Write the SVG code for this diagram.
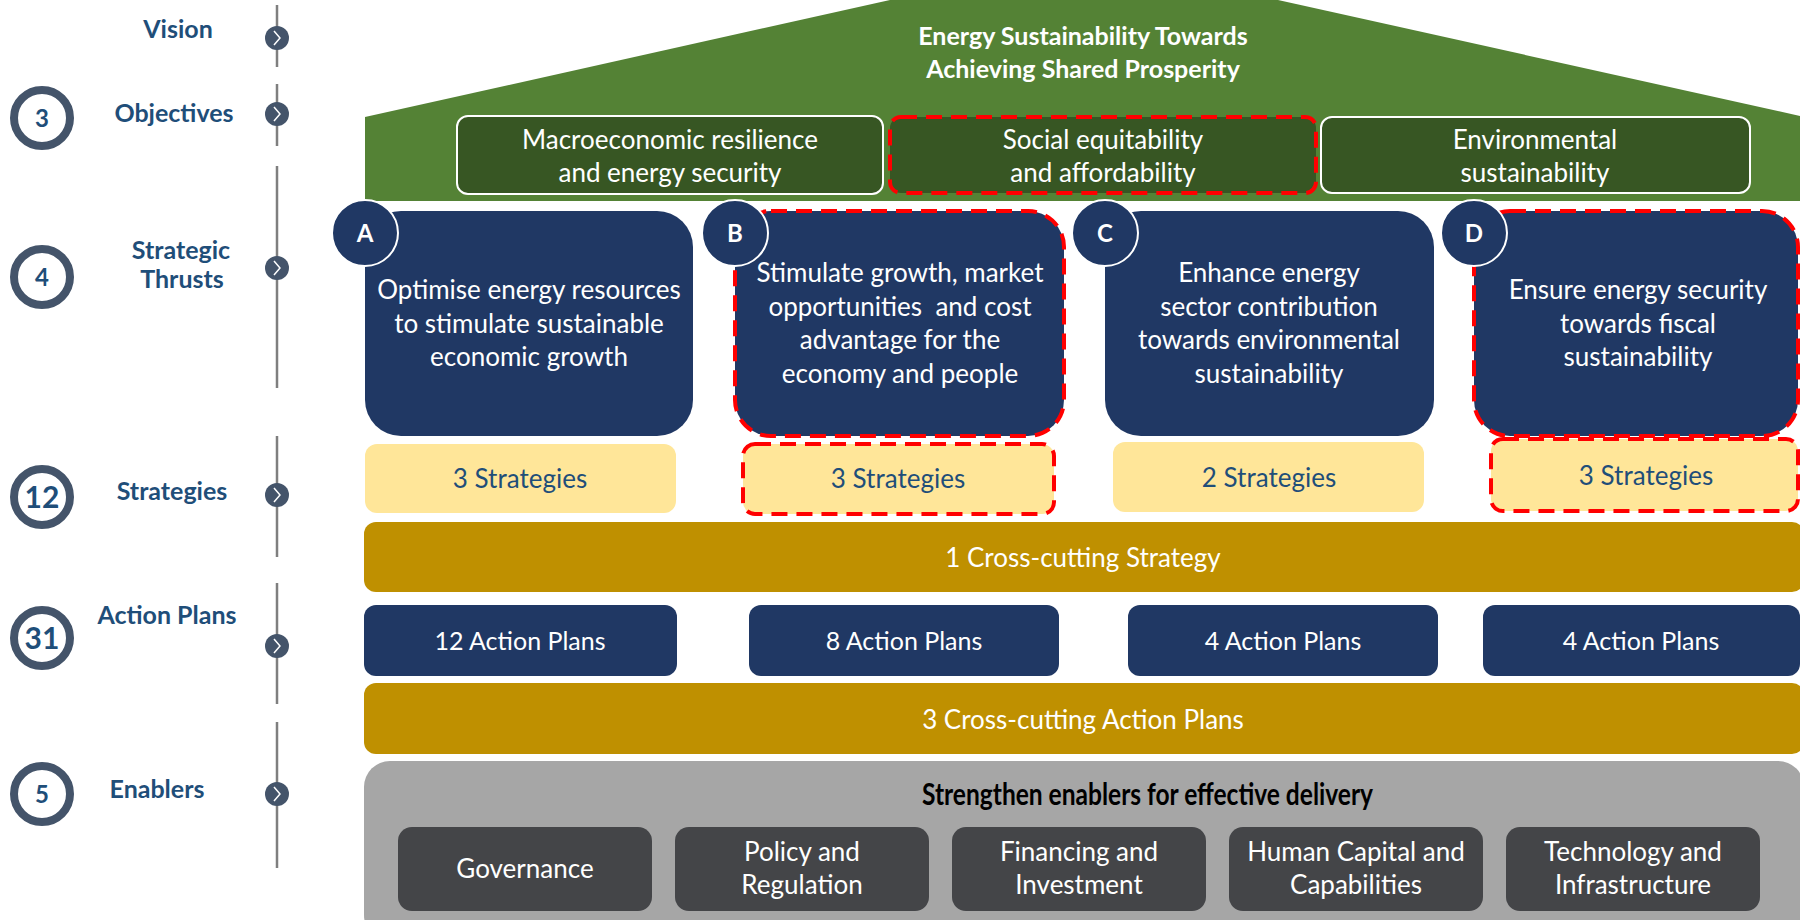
<svg xmlns="http://www.w3.org/2000/svg" width="1800" height="920" viewBox="0 0 1800 920">
<style>
.lbl{font-family:Lato,"Liberation Sans",sans-serif;font-weight:bold;fill:#1f4e79;font-size:25px;text-anchor:middle}
.num{font-family:Lato,"Liberation Sans",sans-serif;font-weight:bold;fill:#1f4e79;text-anchor:middle}
.ring{fill:#fff;stroke:#44546a;stroke-width:8}
.tl{stroke:#7f7f7f;stroke-width:2.5;fill:none}
.chev{fill:#44546a}
.chv{fill:none;stroke:#fff;stroke-width:1.5}
.w{font-family:Lato,"Liberation Sans",sans-serif;fill:#fff;text-anchor:middle;font-size:26px}
.w25{font-family:Lato,"Liberation Sans",sans-serif;fill:#fff;text-anchor:middle;font-size:25px}
.wb{font-family:Lato,"Liberation Sans",sans-serif;fill:#fff;text-anchor:middle;font-weight:bold}
.obj{fill:#375623;stroke:#fff;stroke-width:2}
.navy{fill:#203864}
.letter{fill:#203864;stroke:#fff;stroke-width:2}
.strat{fill:#ffe699}
.st{font-family:Lato,"Liberation Sans",sans-serif;fill:#1f4e79;text-anchor:middle;font-size:26px}
.gold{fill:#bf9000}
.en{fill:#444548}
.red{fill:none;stroke:#ff0000;stroke-width:4;stroke-dasharray:16 9}
</style>

<g id="connectors">
<line class="tl" x1="277" y1="5" x2="277" y2="67"/>
<line class="tl" x1="277" y1="84" x2="277" y2="146"/>
<line class="tl" x1="277" y1="166" x2="277" y2="388"/>
<line class="tl" x1="277" y1="436" x2="277" y2="557"/>
<line class="tl" x1="277" y1="583" x2="277" y2="704"/>
<line class="tl" x1="277" y1="722" x2="277" y2="868"/>
</g>

<g id="row-vision">
<text class="lbl" x="178" y="38">Vision</text>
<circle class="chev" cx="277" cy="38" r="12"/><path class="chv" d="M274,31 L280,38 L274,45"/>
</g>
<g id="row-objectives">
<circle class="ring" cx="42" cy="118" r="28"/>
<text class="num" x="42" y="127" font-size="24">3</text>
<text class="lbl" x="174" y="122">Objectives</text>
<circle class="chev" cx="277" cy="114" r="12"/><path class="chv" d="M274,107 L280,114 L274,121"/>
</g>
<g id="row-thrusts">
<circle class="ring" cx="42" cy="277" r="28"/>
<text class="num" x="42" y="286" font-size="24">4</text>
<text class="lbl" x="181" y="259">Strategic</text>
<text class="lbl" x="182" y="288">Thrusts</text>
<circle class="chev" cx="277" cy="268" r="12"/><path class="chv" d="M274,261 L280,268 L274,275"/>
</g>
<g id="row-strategies">
<circle class="ring" cx="42" cy="497" r="28"/>
<text class="num" x="42" y="508" font-size="30">12</text>
<text class="lbl" x="172" y="500">Strategies</text>
<circle class="chev" cx="277" cy="495" r="12"/><path class="chv" d="M274,488 L280,495 L274,502"/>
</g>
<g id="row-actionplans">
<circle class="ring" cx="42" cy="638" r="28"/>
<text class="num" x="42" y="649" font-size="30">31</text>
<text class="lbl" x="167" y="624">Action Plans</text>
<circle class="chev" cx="277" cy="646" r="12"/><path class="chv" d="M274,639 L280,646 L274,653"/>
</g>
<g id="row-enablers">
<circle class="ring" cx="42" cy="794" r="28"/>
<text class="num" x="42" y="803" font-size="24">5</text>
<text class="lbl" x="157" y="798">Enablers</text>
<circle class="chev" cx="277" cy="794" r="12"/><path class="chv" d="M274,787 L280,794 L274,801"/>
</g>

<g id="roof">
<polygon points="365,117 890,0 1278,0 1800,116 1800,201 365,201" fill="#548235"/>
<text class="wb" x="1083" y="45" font-size="25">Energy Sustainability Towards</text>
<text class="wb" x="1083" y="78" font-size="25">Achieving Shared Prosperity</text>
</g>

<g id="obj-1">
<rect class="obj" x="457" y="116" width="426" height="78" rx="11"/>
<text class="w" x="670" y="149">Macroeconomic resilience</text>
<text class="w" x="670" y="182">and energy security</text>
</g>
<g id="obj-2">
<rect x="890" y="117" width="426" height="76" rx="11" fill="#375623"/>
<rect class="red" x="890" y="117" width="426" height="76" rx="11"/>
<text class="w" x="1103" y="149">Social equitability</text>
<text class="w" x="1103" y="182">and affordability</text>
</g>
<g id="obj-3">
<rect class="obj" x="1321" y="117" width="429" height="76" rx="11"/>
<text class="w" x="1535" y="149">Environmental</text>
<text class="w" x="1535" y="182">sustainability</text>
</g>

<g id="thrust-A">
<rect class="navy" x="365" y="211" width="328" height="225" rx="36"/>
<text class="w" x="529" y="299">Optimise energy resources</text>
<text class="w" x="529" y="333">to stimulate sustainable</text>
<text class="w" x="529" y="366">economic growth</text>
<circle class="letter" cx="365" cy="233" r="33"/>
<text class="wb" x="365" y="242" font-size="24">A</text>
</g>
<g id="thrust-B">
<rect class="navy" x="735" y="211" width="329" height="225" rx="36"/>
<rect class="red" x="735" y="211" width="329" height="225" rx="36"/>
<text class="w" x="900" y="282">Stimulate growth, market</text>
<text class="w" x="900" y="316">opportunities&#160; and cost</text>
<text class="w" x="900" y="349">advantage for the</text>
<text class="w" x="900" y="383">economy and people</text>
<circle class="letter" cx="735" cy="233" r="33"/>
<text class="wb" x="735" y="242" font-size="24">B</text>
</g>
<g id="thrust-C">
<rect class="navy" x="1105" y="211" width="329" height="225" rx="36"/>
<text class="w" x="1269" y="282">Enhance energy</text>
<text class="w" x="1269" y="316">sector contribution</text>
<text class="w" x="1269" y="349">towards environmental</text>
<text class="w" x="1269" y="383">sustainability</text>
<circle class="letter" cx="1105" cy="233" r="33"/>
<text class="wb" x="1105" y="242" font-size="24">C</text>
</g>
<g id="thrust-D">
<rect class="navy" x="1474" y="211" width="324" height="225" rx="36"/>
<rect class="red" x="1474" y="211" width="324" height="225" rx="36"/>
<text class="w" x="1638" y="299">Ensure energy security</text>
<text class="w" x="1638" y="333">towards fiscal</text>
<text class="w" x="1638" y="366">sustainability</text>
<circle class="letter" cx="1474" cy="233" r="33"/>
<text class="wb" x="1474" y="242" font-size="24">D</text>
</g>

<g id="strat-A">
<rect class="strat" x="365" y="444" width="311" height="69" rx="12"/>
<text class="st" x="520" y="488">3 Strategies</text>
</g>
<g id="strat-B">
<rect class="strat" x="743" y="444" width="311" height="70" rx="12"/>
<rect class="red" x="743" y="444" width="311" height="70" rx="12"/>
<text class="st" x="898" y="488">3 Strategies</text>
</g>
<g id="strat-C">
<rect class="strat" x="1113" y="442" width="311" height="70" rx="12"/>
<text class="st" x="1269" y="487">2 Strategies</text>
</g>
<g id="strat-D">
<rect class="strat" x="1491" y="439" width="307" height="72" rx="12"/>
<rect class="red" x="1491" y="439" width="307" height="72" rx="12"/>
<text class="st" x="1646" y="485">3 Strategies</text>
</g>

<g id="crosscut-strategy">
<rect class="gold" x="364" y="522" width="1440" height="70" rx="12"/>
<text class="w" x="1083" y="567">1 Cross-cutting Strategy</text>
</g>

<g id="ap-A">
<rect class="navy" x="364" y="605" width="313" height="71" rx="12"/>
<text class="w25" x="520" y="650">12 Action Plans</text>
</g>
<g id="ap-B">
<rect class="navy" x="749" y="605" width="310" height="71" rx="12"/>
<text class="w25" x="904" y="650">8 Action Plans</text>
</g>
<g id="ap-C">
<rect class="navy" x="1128" y="605" width="310" height="71" rx="12"/>
<text class="w25" x="1283" y="650">4 Action Plans</text>
</g>
<g id="ap-D">
<rect class="navy" x="1483" y="605" width="317" height="71" rx="12"/>
<text class="w25" x="1641" y="650">4 Action Plans</text>
</g>

<g id="crosscut-actionplans">
<rect class="gold" x="364" y="683" width="1440" height="71" rx="12"/>
<text class="w" x="1083" y="729">3 Cross-cutting Action Plans</text>
</g>

<g id="enablers">
<rect x="364" y="761" width="1440" height="180" rx="26" fill="#a6a6a6"/>
<text x="922" y="805" font-family="Lato,'Liberation Sans',sans-serif" font-weight="bold" font-size="30" fill="#000" textLength="451" lengthAdjust="spacingAndGlyphs">Strengthen enablers for effective delivery</text>
</g>
<g id="en-governance">
<rect class="en" x="398" y="827" width="254" height="84" rx="14"/>
<text class="w" x="525" y="878">Governance</text>
</g>
<g id="en-policy">
<rect class="en" x="675" y="827" width="254" height="84" rx="14"/>
<text class="w" x="802" y="861">Policy and</text>
<text class="w" x="802" y="894">Regulation</text>
</g>
<g id="en-financing">
<rect class="en" x="952" y="827" width="254" height="84" rx="14"/>
<text class="w" x="1079" y="861">Financing and</text>
<text class="w" x="1079" y="894">Investment</text>
</g>
<g id="en-human">
<rect class="en" x="1229" y="827" width="254" height="84" rx="14"/>
<text class="w" x="1356" y="861">Human Capital and</text>
<text class="w" x="1356" y="894">Capabilities</text>
</g>
<g id="en-tech">
<rect class="en" x="1506" y="827" width="254" height="84" rx="14"/>
<text class="w" x="1633" y="861">Technology and</text>
<text class="w" x="1633" y="894">Infrastructure</text>
</g>
</svg>
